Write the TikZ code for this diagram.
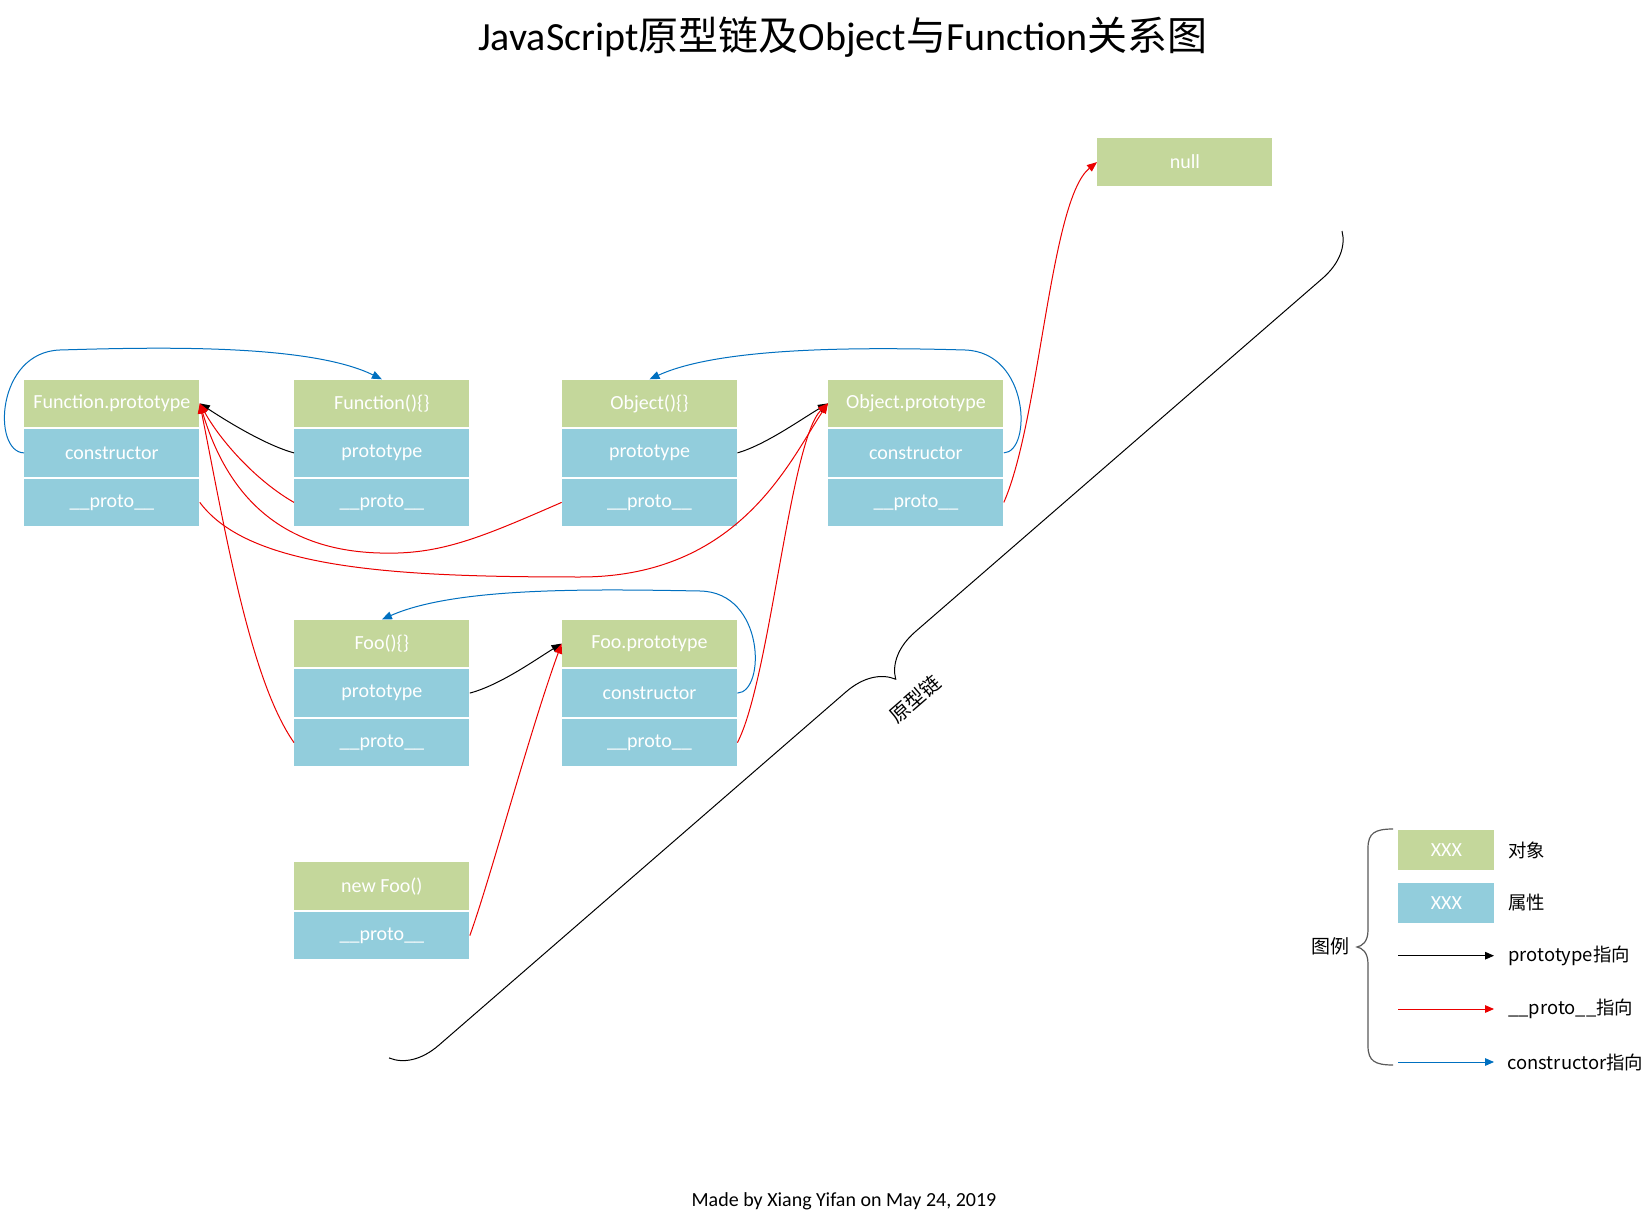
\documentclass[tikz,border=0pt]{standalone}
\usepackage{fontspec}
\setmainfont{Carlito}
\newfontfamily\cjk{Noto Sans CJK SC}
\usetikzlibrary{arrows.meta,decorations.pathreplacing}
\definecolor{boxgreen}{RGB}{196,215,155}
\definecolor{boxblue}{RGB}{146,205,220}
\definecolor{lnred}{RGB}{235,0,0}
\definecolor{lnblue}{RGB}{0,112,192}
\definecolor{bracegray}{RGB}{90,90,90}
\tikzset{
  cell/.style={rectangle, anchor=north west, minimum width=87.5pt, minimum height=23.7pt,
    inner sep=0pt, text=white, font=\fontsize{10}{12}\selectfont},
  objcell/.style={cell, fill=boxgreen},
  propcell/.style={cell, fill=boxblue},
  legcell/.style={rectangle, anchor=north west, minimum width=48pt, minimum height=20pt,
    inner sep=0pt, text=white, font=\fontsize{10}{12}\selectfont},
  tipped/.style={-{Triangle[length=5pt,width=4pt]}, line width=0.5pt},
  protoarrow/.style={tipped, draw=lnred},
  ctorarrow/.style={tipped, draw=lnblue},
  ptarrow/.style={tipped, draw=black},
  legarrow/.style={-{Triangle[length=4.5pt,width=3.8pt]}, line width=0.5pt},
  legtext/.style={anchor=west, inner sep=0pt, font=\cjk\fontsize{9.2}{11}\selectfont},
}
\begin{document}
\begin{tikzpicture}[x=0.5pt,y=-0.5pt]
\useasboundingbox[fill=white] (0,0) rectangle (1652,1224);

% title and footer
\node (title) at (843,37) {\fontsize{20}{24}\selectfont JavaScript{\cjk 原型链及}Object{\cjk 与}Function{\cjk 关系图}};
\node (footer) at (844,1201) {\fontsize{10}{12}\selectfont Made by Xiang Yifan on May 24, 2019};

% Function.prototype
\node[objcell]  (fp)  at (24,379.3) {Function.prototype};
\node[propcell] (fpC) at (24,428.8) {constructor};
\node[propcell] (fpQ) at (24,478.3) {\_\_proto\_\_};
% Function(){}
\node[objcell]  (fn)  at (294,379.3) {Function()\{\}};
\node[propcell] (fnP) at (294,428.8) {prototype};
\node[propcell] (fnQ) at (294,478.3) {\_\_proto\_\_};
% Object(){}
\node[objcell]  (ob)  at (561.6,379.3) {Object()\{\}};
\node[propcell] (obP) at (561.6,428.8) {prototype};
\node[propcell] (obQ) at (561.6,478.3) {\_\_proto\_\_};
% Object.prototype
\node[objcell]  (op)  at (828,379.3) {Object.prototype};
\node[propcell] (opC) at (828,428.8) {constructor};
\node[propcell] (opQ) at (828,478.3) {\_\_proto\_\_};
% null
\node[objcell]  (nl)  at (1097,138) {null};
% Foo(){}
\node[objcell]  (fo)  at (294,619.5) {Foo()\{\}};
\node[propcell] (foP) at (294,669) {prototype};
\node[propcell] (foQ) at (294,718.5) {\_\_proto\_\_};
% Foo.prototype
\node[objcell]  (fr)  at (561.6,619.5) {Foo.prototype};
\node[propcell] (frC) at (561.6,669) {constructor};
\node[propcell] (frQ) at (561.6,718.5) {\_\_proto\_\_};
% new Foo()
\node[objcell]  (nf)  at (294,862) {new Foo()};
\node[propcell] (nfQ) at (294,911.5) {\_\_proto\_\_};

% constructor (blue)
\draw[ctorarrow] (fpC.west) .. controls (-8,452) and (-4,352) .. (60,350)
  .. controls (160,347) and (310,344) .. (fn.north);
\draw[ctorarrow] (opC.east) .. controls (1032,452) and (1030,352) .. (965,350)
  .. controls (860,347) and (720,347) .. (ob.north);
\draw[ctorarrow] (frC.east) .. controls (766,692) and (765,592) .. (700,591)
  .. controls (590,589) and (455,587) .. (fo.north);

% prototype (black)
\draw[ptarrow] (fnP.west) .. controls (265,445) and (225,420) .. (fp.east);
\draw[ptarrow] (obP.east) .. controls (765,445) and (800,420) .. (op.west);
\draw[ptarrow] (foP.east) .. controls (500,685) and (535,660) .. (fr.west);

% __proto__ (red)
\draw[protoarrow] (fpQ.east) .. controls (250,570) and (400,577) .. (580,577)
  .. controls (740,577) and (790,460) .. (op.west);
\draw[protoarrow] (fnQ.west) .. controls (255,480) and (220,440) .. (fp.east);
\draw[protoarrow] (obQ.west) .. controls (480,538) and (440,555) .. (380,553)
  .. controls (260,550) and (220,470) .. (fp.east);
\draw[protoarrow] (foQ.west) .. controls (250,680) and (225,530) .. (fp.east);
\draw[protoarrow] (frQ.east) .. controls (770,680) and (790,440) .. (op.west);
\draw[protoarrow] (nfQ.east) .. controls (490,880) and (530,730) .. (fr.west);
\draw[protoarrow] (opQ.east) .. controls (1040,420) and (1050,200) .. (nl.west);

% prototype chain brace
\coordinate (bA) at (1342,231);
\coordinate (bB) at (389,1058);
\draw[line width=0.5pt, decorate, decoration={brace, amplitude=23pt}] (bA) -- (bB);
\node[rotate=40.9, font=\cjk\fontsize{10}{12}\selectfont, inner sep=0pt] (chain) at (915,699) {原型链};

% legend
\node[legcell, fill=boxgreen] (lg1) at (1398,829.3) {XXX};
\node[legcell, fill=boxblue]  (lg2) at (1398,882.3) {XXX};
\node[legtext] (lt1) at (1508,850) {对象};
\node[legtext] (lt2) at (1508,903) {属性};
\coordinate (la1) at (1398,955.7); \coordinate (lb1) at (1494,955.7);
\coordinate (la2) at (1398,1009);  \coordinate (lb2) at (1494,1009);
\coordinate (la3) at (1398,1062);  \coordinate (lb3) at (1494,1062);
\draw[legarrow, draw=black] (la1) -- (lb1);
\draw[legarrow, draw=lnred] (la2) -- (lb2);
\draw[legarrow, draw=lnblue] (la3) -- (lb3);
\node[legtext] (lt3) at (1508,955.7) {prototype指向};
\node[legtext] (lt4) at (1508,1009) {\_\_proto\_\_指向};
\node[legtext] (lt5) at (1507,1062) {constructor指向};
\draw[bracegray, line width=0.6pt] (1393,829) .. controls (1375,829) and (1368,833) .. (1368,848)
  -- (1368,930) .. controls (1368,942) and (1362,946) .. (1357,947)
  .. controls (1362,948) and (1368,952) .. (1368,964)
  -- (1368,1046) .. controls (1368,1061) and (1375,1065) .. (1393,1065);
\node[font=\cjk\fontsize{9.5}{11}\selectfont] (legtitle) at (1330,946) {图例};
\end{tikzpicture}
\end{document}
